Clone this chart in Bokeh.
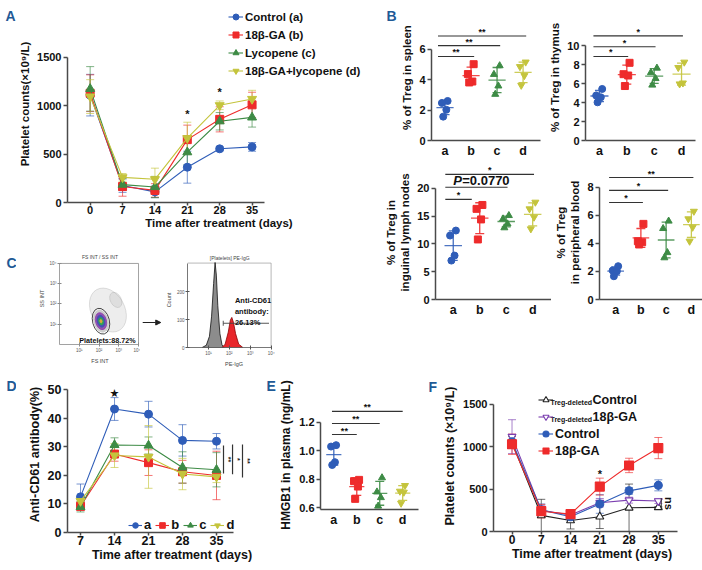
import numpy as np
from math import pi
from bokeh.plotting import figure
from bokeh.layouts import row, column
from bokeh.models import (ColumnDataSource, Whisker, TeeHead, Legend, LegendItem,
                          Label, Range1d, FixedTicker, Spacer, Arrow, NormalHead)
from bokeh.core.properties import value
from bokeh.embed import file_html
from bokeh.resources import INLINE

FONT = "Liberation Sans"
COLORS = ["#2F5DB8", "#EE2B2B", "#3D8B45", "#C4C43C"]
MARKERS = ["circle", "square", "triangle", "inverted_triangle"]
PANEL_COLOR = "#1F5A96"
AXIS_COLOR = "#4a4a4a"

# ---------------- Panel A data ----------------
A_days = [0, 7, 14, 21, 28, 35]
A_names = ["Control (a)", "18β-GA (b)", "Lycopene (c)", "18β-GA+lycopene (d)"]
A_ctrl = [1110, 175, 110, 365, 555, 575]
A_ctrl_sd = [215, 70, 60, 165, 20, 45]
A_ga = [1130, 165, 125, 650, 860, 1010]
A_ga_sd = [190, 100, 70, 150, 130, 130]
A_lyc = [1175, 185, 160, 520, 840, 880]
A_lyc_sd = [230, 60, 110, 130, 90, 100]
A_comb = [1095, 260, 240, 665, 1005, 1070]
A_comb_sd = [175, 40, 115, 165, 45, 90]
A_star_days = [21, 28]
A_star_y = [910, 1140]
A_yticks = [0, 500, 1000, 1500]

# ---------------- Panel B data ----------------
B_cats = ["a", "b", "c", "d"]
spleen = [[2.60, 2.47, 2.02, 1.57], [5.02, 4.37, 3.88, 3.82],
          [4.92, 4.35, 3.59, 3.04], [5.16, 4.86, 4.27, 3.63]]
thymus = [[5.44, 4.75, 4.56, 4.03], [8.20, 7.00, 6.86, 5.75],
          [7.64, 7.17, 6.54, 5.85], [8.27, 7.70, 6.07, 5.97]]
lymph = [[12.4, 11.5, 7.9, 7.0], [17.0, 16.3, 14.4, 10.8],
         [15.1, 14.5, 13.6, 12.9], [17.5, 16.3, 14.8, 12.7]]
blood = [[2.38, 2.07, 2.02, 1.66], [5.40, 4.16, 4.09, 3.93],
         [5.60, 5.07, 3.35, 2.98], [6.30, 5.76, 5.16, 4.16]]
spleen_sig_to, spleen_sig_y, spleen_sig_txt = [2, 3, 4], [5.53, 6.24, 6.88], ["**", "**", "**"]
thymus_sig_to, thymus_sig_y, thymus_sig_txt = [2, 3, 4], [8.87, 9.90, 11.04], ["*", "*", "*"]
lymph_sig_to, lymph_sig_y, lymph_sig_txt = [1.65, 3, 4], [18.0, 20.2, 22.5], ["*", "", "*"]
blood_sig_to, blood_sig_y, blood_sig_txt = [2, 3, 4], [6.93, 7.79, 8.71], ["*", "*", "**"]

# ---------------- Panel C data (flow cytometry sketch) ----------------
C_gate_x, C_gate_y = 2.1, 1.15
C_ring_w = [0.85, 0.72, 0.55, 0.38, 0.22, 0.10]
C_ring_h = [1.30, 1.10, 0.85, 0.60, 0.36, 0.16]
C_ring_col = [None, "#C9C9C9", "#8E44AD", "#3F51B5", "#2EAD4B", "#E8A33D"]
C_cloud_x, C_cloud_y = [2.45, 2.85], [1.7, 2.2]
C_cloud_w, C_cloud_h = [1.7, 0.55], [2.3, 0.8]
gray_x = [0.70, 0.90, 1.05, 1.15, 1.25, 1.32, 1.38, 1.45, 1.55, 1.65, 1.75]
gray_n = [0, 8, 40, 110, 230, 305, 260, 150, 50, 10, 0]
red_x = [1.65, 1.80, 1.95, 2.05, 2.12, 2.20, 2.30, 2.45, 2.65]
red_n = [0, 12, 55, 98, 108, 90, 50, 12, 0]

# ---------------- Panel D data ----------------
D_days = [7, 14, 21, 28, 35]
D_a = [12.5, 43.3, 41.5, 32.3, 32.0]
D_a_sd = [4.5, 4.0, 4.5, 5.5, 2.7]
D_b = [9.2, 27.5, 24.5, 21.3, 20.0]
D_b_sd = [1.5, 2.5, 4.5, 4.0, 8.5]
D_c = [9.0, 30.7, 30.5, 22.8, 22.0]
D_c_sd = [1.8, 2.5, 3.0, 5.5, 6.0]
D_d = [11.0, 27.0, 26.5, 20.5, 19.5]
D_d_sd = [1.5, 4.2, 11.0, 5.5, 2.0]
D_br_x = [36.44, 38.3, 40.35]
D_br_lo = [20.7, 20.4, 19.3]
D_br_hi = [30.5, 30.9, 30.9]
D_br_txt = ["**", "*", "**"]

# ---------------- Panel E data ----------------
hmgb1 = [[1.04, 1.03, 0.92, 0.90], [0.795, 0.786, 0.748, 0.661],
         [0.81, 0.71, 0.67, 0.61], [0.755, 0.715, 0.708, 0.63]]
E_sig_to, E_sig_y, E_sig_txt = [2, 3, 4], [1.115, 1.193, 1.278], ["**", "**", "**"]

# ---------------- Panel F data ----------------
F_days = [0, 7, 14, 21, 28, 35]
F_tdc = [1050, 190, 130, 175, 280, 285]
F_tdc_sd = [70, 190, 100, 140, 280, 8]
F_tdg = [1120, 250, 195, 340, 370, 360]
F_tdg_sd = [200, 60, 30, 50, 35, 30]
F_ctrl = [1060, 255, 175, 325, 480, 545]
F_ctrl_sd = [80, 70, 40, 110, 40, 65]
F_ga = [1030, 240, 205, 530, 780, 985]
F_ga_sd = [120, 80, 30, 100, 85, 125]
F_yticks = [0, 500, 1000, 1500]

JIT = [0.10, -0.12, 0.05, -0.07]


def mkfig(w, h, xr, yr, mb, **kw):
    p = figure(width=w, height=h, x_range=xr, y_range=yr, output_backend="svg",
               toolbar_location=None, min_border_left=mb[0], min_border_right=mb[1],
               min_border_top=mb[2], min_border_bottom=mb[3], frame_align=False, **kw)
    p.outline_line_color = None
    p.grid.visible = False
    return p


def blank(w, h):
    return mkfig(w, h, Range1d(0, 1), Range1d(0, 1), (0, 0, 0, 0),
                 x_axis_location=None, y_axis_location=None)


def style_axes(p, tick_size="11px", label_size="11.5px"):
    for ax in p.axis:
        ax.axis_line_width = 1.5
        ax.axis_line_color = AXIS_COLOR
        ax.major_tick_line_width = 1.5
        ax.major_tick_line_color = AXIS_COLOR
        ax.major_tick_out = 4
        ax.major_tick_in = 0
        ax.minor_tick_out = 0
        ax.minor_tick_in = 0
        ax.major_label_text_font = FONT
        ax.major_label_text_font_style = "bold"
        ax.major_label_text_font_size = tick_size
        ax.major_label_text_color = "#111111"
        ax.axis_label_text_font = FONT
        ax.axis_label_text_font_style = "bold"
        ax.axis_label_text_font_size = label_size
        ax.axis_label_text_color = "#111111"
        ax.major_label_standoff = 2
        ax.axis_label_standoff = 3
    for ax in p.xaxis:
        ax.major_tick_out = 3
        ax.major_label_standoff = 0
        ax.axis_label_standoff = 0


def whisk(p, x, lo, hi, color, size=8, alpha=0.65, width=1.0):
    src = ColumnDataSource(dict(x=x, lo=lo, hi=hi))
    w = Whisker(source=src, base="x", upper="hi", lower="lo", dimension="height",
                line_color=color, line_alpha=alpha, line_width=width,
                upper_head=TeeHead(size=size, line_color=color, line_alpha=alpha, line_width=width),
                lower_head=TeeHead(size=size, line_color=color, line_alpha=alpha, line_width=width))
    p.add_layout(w)


def txt(p, x, y, t, size="9px", align="center", baseline="middle", angle=0, xo=0, yo=0,
        style="bold", font=FONT, color="#111111"):
    p.text(x=x, y=y, text=t, text_font=value(font), text_font_size=size,
           text_font_style=style, text_align=align, text_baseline=baseline, angle=angle,
           x_offset=xo, y_offset=yo, text_color=color)


def clab(p, x, y, t, size, style="bold", color="#111111", align="left", baseline="middle",
         font=FONT):
    p.add_layout(Label(x=x, y=y, x_units="canvas", y_units="canvas", text=t, text_font=font,
                       text_font_size=size, text_font_style=style, text_color=color,
                       text_align=align, text_baseline=baseline))


def panel_letter(p, x, y, letter):
    clab(p, x, y, letter, "14px", color=PANEL_COLOR)


# ================= Panel A =================
pA = mkfig(354, 250, Range1d(-4.9, 60.6), Range1d(0, 2037), (47, 0, 5, 48))
style_axes(pA, "11px", "11.5px")
pA.xaxis.ticker = FixedTicker(ticks=A_days)
pA.xaxis.bounds = (-4.9, 37.6)
pA.yaxis.ticker = FixedTicker(ticks=A_yticks)
pA.yaxis.bounds = (0, 1500)
pA.xaxis.axis_label = "Time after treatment (days)"
pA.yaxis.axis_label = "Platelet counts(×10⁹/L)"
items = []
A_sizes = [8, 8, 9, 9]
for i, (vals, sds) in enumerate([(A_ctrl, A_ctrl_sd), (A_ga, A_ga_sd), (A_lyc, A_lyc_sd), (A_comb, A_comb_sd)]):
    c = COLORS[i]
    whisk(pA, A_days, [v - s for v, s in zip(vals, sds)], [v + s for v, s in zip(vals, sds)], c)
    lr = pA.line(A_days, vals, line_color=c, line_width=1.1)
    sr = pA.scatter(A_days, vals, marker=MARKERS[i], size=A_sizes[i], fill_color=c, line_color=c)
    items.append(LegendItem(label=A_names[i], renderers=[lr, sr]))
txt(pA, A_star_days, A_star_y, ["*", "*"], size="11px")
legA = Legend(items=items, location=(161, 124), orientation="vertical",
              label_text_font=FONT, label_text_font_style="bold", label_text_font_size="11.5px",
              label_text_color="#111111", glyph_width=15, glyph_height=15, label_height=15,
              spacing=3, padding=0, margin=0, label_standoff=2,
              border_line_color=None, background_fill_alpha=0)
pA.add_layout(legA)

# left letters strip (A, C)
pLA = blank(16, 370)
panel_letter(pLA, 5, 15, "A")
panel_letter(pLA, 6, 262, "C")


# ================= Panel B / E helper =================
def dot_panel(w, h, mb, xr, yr, ybounds, xbounds, yticks, groups, ylabel, sig_to, sig_y,
              sig_txt, sig_x0, sig_pad, tick_size="11px", label_size="11.5px",
              sig_size="9px", fmt=None):
    p = mkfig(w, h, Range1d(*xr), Range1d(*yr), mb)
    style_axes(p, tick_size, label_size)
    pos = [i + 1 for i in range(len(groups))]
    for i, vals in enumerate(groups):
        c = COLORS[i]
        xs = [pos[i] + JIT[k] for k in range(len(vals))]
        m = float(np.mean(vals))
        sd = float(np.std(vals, ddof=1))
        p.segment(x0=[pos[i] - 0.33], x1=[pos[i] + 0.33], y0=[m], y1=[m], line_color=c,
                  line_width=1.3, line_alpha=0.85)
        whisk(p, [pos[i]], [m - sd], [m + sd], c, size=9, alpha=0.9, width=1.3)
        p.scatter(xs, vals, marker=MARKERS[i], size=7, fill_color=c, line_color=c)
    p.yaxis.bounds = ybounds
    p.xaxis.bounds = xbounds
    p.yaxis.ticker = FixedTicker(ticks=yticks)
    if fmt:
        p.yaxis.major_label_overrides = {t: fmt(t) for t in yticks}
    p.yaxis.axis_label = ylabel
    p.xaxis.ticker = FixedTicker(ticks=pos)
    p.xaxis.major_label_overrides = {pp: c for pp, c in zip(pos, B_cats)}
    p.xaxis.major_tick_out = 0
    p.xaxis.major_label_text_font_size = "12.5px"
    p.xaxis.major_label_standoff = 3
    x1 = [t + sig_pad for t in sig_to]
    p.segment(x0=[sig_x0] * len(sig_to), x1=x1, y0=sig_y, y1=sig_y, line_color="#333333",
              line_width=1.1)
    txt(p, [(sig_x0 + e) / 2 for e in x1], sig_y, sig_txt, size=sig_size, yo=-4)
    return p


pLB = blank(28, 160)
panel_letter(pLB, 16, 15, "B")
pSp = dot_panel(147, 160, (29, 5, 14, 19), (0.48, 4.67), (0, 8.29), (0, 6), (0.48, 4.67),
                [0, 2, 4, 6], spleen, "% of Treg in spleen", spleen_sig_to, spleen_sig_y,
                spleen_sig_txt, 0.73, 0.12)
pTh = dot_panel(157, 160, (40, 7, 14, 19), (0.49, 4.51), (0, 13.3), (0, 10), (0.49, 4.51),
                [0, 2, 4, 6, 8, 10], thymus, "% of Treg in thymus", thymus_sig_to,
                thymus_sig_y, thymus_sig_txt, 0.78, 0.05)
pLN = dot_panel(181, 160, (65, 0, 5, 21), (0.33, 4.71), (0, 24.1), (0, 20), (0.33, 4.71),
                [0, 5, 10, 15, 20], lymph, "% of Treg in\ninguinal lymph nodes", lymph_sig_to,
                lymph_sig_y, lymph_sig_txt, 0.7, 0.05)
txt(pLN, [1.0], [20.2], ["P"], size="13px", align="left", style="bold italic", yo=-7)
txt(pLN, [1.0], [20.2], ["=0.0770"], size="13px", align="left", xo=9, yo=-7)
pPB = dot_panel(161, 160, (42, 7, 5, 21), (0.36, 4.56), (0, 9.57), (0, 8), (0.36, 4.56),
                [0, 2, 4, 6, 8], blood, "% of Treg\nin peripheral blood", blood_sig_to,
                blood_sig_y, blood_sig_txt, 0.74, 0.08)

# ================= Panel C =================
pC1 = mkfig(124, 120, Range1d(0, 4.1), Range1d(0, 4.54), (43, 0, 2, 26))
for ax in pC1.axis:
    ax.axis_line_color = "#8a8a8a"
    ax.axis_line_width = 0.8
    ax.major_tick_line_color = "#8a8a8a"
    ax.major_tick_out = 2
    ax.minor_tick_out = 0
    ax.major_label_text_font_size = "4.5px"
    ax.major_label_text_color = "#555555"
    ax.axis_label_text_font_size = "5.5px"
    ax.axis_label_text_font_style = "normal"
    ax.axis_label_text_color = "#444444"
    ax.major_label_standoff = 1
    ax.axis_label_standoff = 2
    ax.ticker = FixedTicker(ticks=[1, 2, 3, 4])
    ax.major_label_overrides = {1: "10¹", 2: "10²", 3: "10³", 4: "10⁴"}
pC1.xaxis.bounds = (0, 4)
pC1.yaxis.bounds = (0, 4)
pC1.xaxis.axis_label = "FS INT"
pC1.yaxis.axis_label = "SS INT"
pC1.segment(x0=[0, 4], x1=[4, 4], y0=[4, 0], y1=[4, 4], line_color="#8a8a8a", line_width=0.8)
pC1.ellipse(x=C_cloud_x, y=C_cloud_y, width=C_cloud_w, height=C_cloud_h, angle=0.5,
            fill_color="#9a9a9a", fill_alpha=0.18, line_color="#9a9a9a", line_alpha=0.5,
            line_width=0.6)
for k in range(len(C_ring_w)):
    col = C_ring_col[k]
    pC1.ellipse(x=[C_gate_x], y=[C_gate_y], width=[C_ring_w[k]], height=[C_ring_h[k]],
                angle=0.25, fill_color=col if col else None, fill_alpha=0.9 if col else 0,
                line_color="#333333" if col is None else col, line_width=0.9)
txt(pC1, [1.0], [0.22], ["Platelets:88.72%"], size="7.2px", align="left")
txt(pC1, [2.05], [4.3], ["FS INT / SS INT"], size="5px", style="normal", color="#444444")

pAr = blank(22, 120)
pAr.add_layout(Arrow(x_start=0.1, y_start=0.4, x_end=0.92, y_end=0.4, line_width=1.2,
                     line_color="#222222",
                     end=NormalHead(size=5, fill_color="#222222", line_color="#222222")))

pC2 = mkfig(198, 120, Range1d(0, 4.45), Range1d(0, 341), (19, 80, 2, 23))
for ax in pC2.axis:
    ax.axis_line_color = "#555555"
    ax.axis_line_width = 0.8
    ax.major_tick_line_color = "#555555"
    ax.major_tick_out = 2
    ax.minor_tick_out = 0
    ax.major_label_text_font_size = "4.5px"
    ax.major_label_text_color = "#555555"
    ax.axis_label_text_font_size = "5.5px"
    ax.axis_label_text_font_style = "normal"
    ax.axis_label_text_color = "#444444"
    ax.major_label_standoff = 1
    ax.axis_label_standoff = 2
pC2.xaxis.ticker = FixedTicker(ticks=[1, 2, 3, 4])
pC2.xaxis.major_label_overrides = {1: "10¹", 2: "10²", 3: "10³", 4: "10⁴"}
pC2.xaxis.bounds = (0, 4)
pC2.yaxis.ticker = FixedTicker(ticks=[0, 100, 200])
pC2.yaxis.bounds = (0, 303)
pC2.xaxis.axis_label = "PE-IgG"
pC2.yaxis.axis_label = "Count"
pC2.segment(x0=[0, 4], x1=[4, 4], y0=[303, 0], y1=[303, 303], line_color="#9a9a9a",
            line_width=0.7)
pC2.patch(gray_x, gray_n, fill_color="#8c8c8c", line_color="#111111", line_width=0.8)
pC2.patch(red_x, red_n, fill_color="#E8262A", line_color="#8B0000", line_width=0.8)
pC2.segment(x0=[1.71], x1=[3.9], y0=[87], y1=[87], line_color="#444444", line_width=0.9)
pC2.segment(x0=[1.71], x1=[1.71], y0=[78], y1=[96], line_color="#444444", line_width=0.9)
pC2.add_layout(Label(x=2.27, y=185, text="Anti-CD61\nantibody:\n26.13%", text_font=FONT,
                     text_font_size="7.5px", text_font_style="bold", text_color="#111111",
                     text_baseline="top", text_align="left"))
txt(pC2, [2.02], [320], ["[Platelets] PE-IgG"], size="5px", style="normal", color="#444444")

# ================= Panel D =================
pLD = blank(16, 200)
panel_letter(pLD, 6, 15, "D")
pD = mkfig(260, 200, Range1d(4.32, 47.35), Range1d(0, 54.7), (51, 0, 6, 38))
style_axes(pD, "12.5px", "12.5px")
pD.xaxis.ticker = FixedTicker(ticks=D_days)
pD.yaxis.ticker = FixedTicker(ticks=[0, 10, 20, 30, 40, 50])
pD.yaxis.bounds = (0, 50)
pD.xaxis.bounds = (4.32, 38.5)
pD.xaxis.axis_label = "Time after treatment (days)"
pD.yaxis.axis_label = "Anti-CD61 antibody(%)"
itemsD = []
for i, (vals, sds) in enumerate([(D_a, D_a_sd), (D_b, D_b_sd), (D_c, D_c_sd), (D_d, D_d_sd)]):
    c = COLORS[i]
    whisk(pD, D_days, [v - s for v, s in zip(vals, sds)], [v + s for v, s in zip(vals, sds)], c)
    lr = pD.line(D_days, vals, line_color=c, line_width=1.1)
    sr = pD.scatter(D_days, vals, marker=MARKERS[i], size=A_sizes[i], fill_color=c, line_color=c)
    itemsD.append(LegendItem(label=B_cats[i], renderers=[lr, sr]))
txt(pD, [14], [48.6], ["★"], size="11px", font="DejaVu Sans")
pD.segment(x0=D_br_x, x1=D_br_x, y0=D_br_lo, y1=D_br_hi, line_color="#333333", line_width=1.2)
txt(pD, D_br_x, [(a + b) / 2 for a, b in zip(D_br_lo, D_br_hi)], D_br_txt, size="7px",
    angle=-pi / 2, xo=4.5)
legD = Legend(items=itemsD, location=(61, 0), orientation="horizontal",
              label_text_font=FONT, label_text_font_style="bold", label_text_font_size="13px",
              label_text_color="#111111", glyph_width=14, glyph_height=14, label_height=14,
              label_width=6, spacing=4, padding=0, margin=0, label_standoff=2,
              border_line_color=None, background_fill_alpha=0)
pD.add_layout(legD)
panel_letter(pD, 250, 15, "E")

# ================= Panel E =================
pE = dot_panel(148, 200, (38, 0, 30, 61), (0.42, 4.95), (0.586, 1.355), (0.586, 1.2), (0.42, 4.7),
               [0.6, 0.8, 1.0, 1.2], hmgb1, "HMGB1 in plasma (ng/mL)", E_sig_to, E_sig_y,
               E_sig_txt, 0.92, 0.0, tick_size="11px", label_size="12px",
               fmt=lambda t: "%.1f" % t)
pLF = blank(16, 200)
panel_letter(pLF, 4, 16, "F")

# ================= Panel F =================
pF = mkfig(262, 200, Range1d(-4.43, 42.7), Range1d(0, 1783), (48, 12, 10, 39))
style_axes(pF, "11px", "12.5px")
pF.xaxis.ticker = FixedTicker(ticks=F_days)
pF.yaxis.ticker = FixedTicker(ticks=F_yticks)
pF.yaxis.bounds = (0, 1500)
pF.xaxis.bounds = (-4.43, 39.7)
pF.xaxis.axis_label = "Time after treatment (days)"
pF.yaxis.axis_label = "Platelet counts (×10⁹/L)"
pF.xaxis.major_label_text_font_size = "12px"
F_cols = ["#222222", "#7B3FB0", COLORS[0], COLORS[1]]
F_marks = ["triangle", "inverted_triangle", "circle", "square"]
F_fill = [None, None, COLORS[0], COLORS[1]]
F_labels = [" ", " ", "Control", "18β-GA"]
itemsF = []
for i, (vals, sds) in enumerate([(F_tdc, F_tdc_sd), (F_tdg, F_tdg_sd), (F_ctrl, F_ctrl_sd), (F_ga, F_ga_sd)]):
    c = F_cols[i]
    whisk(pF, F_days, [max(v - s, 0) for v, s in zip(vals, sds)], [v + s for v, s in zip(vals, sds)], c)
    lr = pF.line(F_days, vals, line_color=c, line_width=1.1)
    sr = pF.scatter(F_days, vals, marker=F_marks[i], size=[8, 8, 8, 9][i],
                    fill_color=F_fill[i] if F_fill[i] else "white", line_color=c, line_width=1.1)
    itemsF.append(LegendItem(label=F_labels[i], renderers=[lr, sr]))
txt(pF, [21], [680], ["*"], size="11px")
pF.segment(x0=[35.7], x1=[35.7], y0=[270], y1=[395], line_color="#333333", line_width=1.1)
txt(pF, [35.7], [332], ["ns"], size="11px", angle=-pi / 2, xo=8)
leg_kw = dict(orientation="vertical", label_text_font=FONT, label_text_font_style="bold",
              label_text_font_size="12.5px", label_text_color="#111111",
              glyph_width=15, glyph_height=15, label_height=15, spacing=2, padding=0,
              margin=0, label_standoff=2, border_line_color=None, background_fill_alpha=0)
pF.add_layout(Legend(items=itemsF[:2], location=(45, 107), **leg_kw))
pF.add_layout(Legend(items=itemsF[2:], location=(45, 73), **leg_kw))
for k, big in enumerate(["Control", "18β-GA"]):
    cy = 29.5 + 17 * k
    clab(pF, 110, cy + 2, "Treg-deleted", "7px")
    clab(pF, 152, cy, big, "12.5px")

left_col = row(pLA, column(pA, row(pC1, pAr, pC2, spacing=0), spacing=0), spacing=0)
right_col = column(row(pLB, pSp, pTh, spacing=0), row(pLN, pPB, spacing=0),
                   Spacer(width=342, height=50), spacing=0)
top = row(left_col, right_col, spacing=0)
bottom = row(pLD, pD, pE, pLF, pF, spacing=0)
layout = column(top, bottom, spacing=0)

open("out.html", "w").write(file_html(layout, INLINE))
